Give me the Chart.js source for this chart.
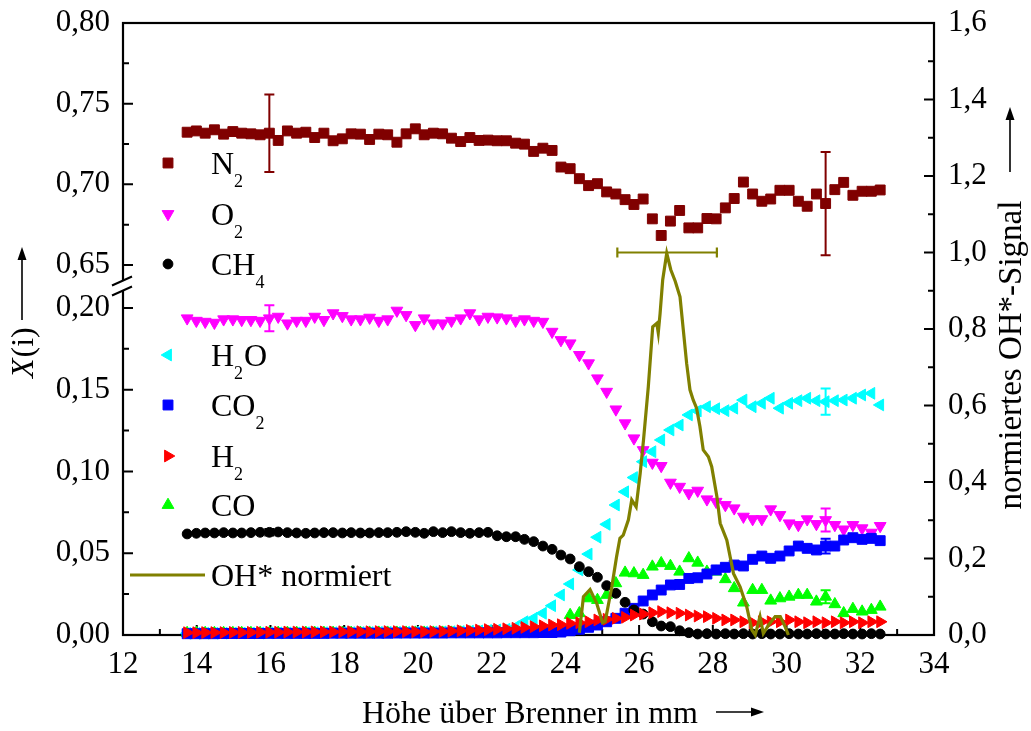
<!DOCTYPE html>
<html><head><meta charset="utf-8">
<script src="https://cdn.jsdelivr.net/npm/chart.js@4.4.0/dist/chart.umd.min.js"></script>
<style>html,body{margin:0;padding:0;background:#fff;}canvas{display:block;}</style>
</head><body>
<canvas id="c" width="1031" height="731"></canvas>
<script>
// ---------------- data ----------------
const xPos = [13.74,13.99,14.23,14.48,14.73,14.98,15.22,15.47,15.72,15.97,16.21,16.46,16.71,16.96,17.20,17.45,17.70,17.95,18.19,18.44,18.69,18.94,19.18,19.43,19.68,19.93,20.17,20.42,20.67,20.91,21.16,21.41,21.66,21.90,22.15,22.40,22.65,22.89,23.14,23.39,23.64,23.88,24.13,24.38,24.63,24.87,25.12,25.37,25.62,25.86,26.11,26.36,26.60,26.85,27.10,27.35,27.59,27.84,28.09,28.34,28.58,28.83,29.08,29.33,29.57,29.82,30.07,30.32,30.56,30.81,31.06,31.31,31.55,31.80,32.05,32.30,32.54];
const n2 = [0.7323,0.7331,0.7317,0.7338,0.7311,0.7327,0.7317,0.7313,0.7307,0.7317,0.7272,0.7331,0.7317,0.7323,0.7290,0.7317,0.7270,0.7282,0.7313,0.7311,0.7278,0.7311,0.7307,0.7261,0.7313,0.7344,0.7307,0.7317,0.7313,0.7286,0.7265,0.7290,0.7272,0.7274,0.7270,0.7270,0.7255,0.7249,0.7204,0.7224,0.7210,0.7107,0.7097,0.7035,0.6992,0.7004,0.6953,0.6940,0.6905,0.6875,0.6909,0.6786,0.6683,0.6772,0.6838,0.6730,0.6730,0.6788,0.6786,0.6854,0.6912,0.7014,0.6940,0.6895,0.6909,0.6963,0.6963,0.6895,0.6864,0.6940,0.6881,0.6967,0.7012,0.6932,0.6957,0.6957,0.6965];
const o2 = [0.1937,0.1922,0.1916,0.1910,0.1931,0.1931,0.1927,0.1927,0.1922,0.1937,0.1947,0.1906,0.1922,0.1922,0.1947,0.1927,0.1968,0.1951,0.1931,0.1931,0.1941,0.1922,0.1931,0.1984,0.1957,0.1896,0.1937,0.1906,0.1906,0.1922,0.1937,0.1968,0.1931,0.1947,0.1943,0.1937,0.1922,0.1931,0.1922,0.1916,0.1855,0.1804,0.1784,0.1713,0.1662,0.1570,0.1488,0.1380,0.1295,0.1203,0.1131,0.1054,0.1034,0.0932,0.0907,0.0867,0.0883,0.0830,0.0815,0.0795,0.0775,0.0724,0.0709,0.0709,0.0769,0.0734,0.0683,0.0673,0.0708,0.0679,0.0703,0.0673,0.0646,0.0673,0.0653,0.0626,0.0667];
const ch4 = [0.0618,0.0622,0.0624,0.0624,0.0626,0.0624,0.0624,0.0626,0.0628,0.0628,0.0630,0.0626,0.0624,0.0622,0.0624,0.0626,0.0626,0.0624,0.0626,0.0624,0.0624,0.0626,0.0626,0.0628,0.0632,0.0628,0.0622,0.0632,0.0626,0.0632,0.0626,0.0622,0.0626,0.0628,0.0607,0.0601,0.0601,0.0585,0.0571,0.0544,0.0524,0.0489,0.0465,0.0418,0.0387,0.0353,0.0302,0.0255,0.0200,0.0153,0.0128,0.0081,0.0055,0.0051,0.0026,0.0014,0.0006,0.0008,0.0006,0.0008,0.0006,0.0008,0.0006,0.0008,0.0006,0.0006,0.0008,0.0006,0.0006,0.0008,0.0006,0.0006,0.0008,0.0006,0.0006,0.0008,0.0006];
const h2o = [0.0010,0.0010,0.0011,0.0011,0.0011,0.0012,0.0012,0.0012,0.0012,0.0013,0.0013,0.0013,0.0013,0.0014,0.0014,0.0014,0.0014,0.0015,0.0015,0.0015,0.0015,0.0016,0.0016,0.0016,0.0017,0.0017,0.0018,0.0018,0.0019,0.0020,0.0021,0.0023,0.0025,0.0028,0.0031,0.0035,0.0050,0.0081,0.0102,0.0133,0.0179,0.0245,0.0312,0.0398,0.0495,0.0598,0.0677,0.0795,0.0876,0.0963,0.1060,0.1121,0.1193,0.1254,0.1284,0.1346,0.1370,0.1396,0.1384,0.1372,0.1387,0.1437,0.1396,0.1417,0.1448,0.1387,0.1417,0.1433,0.1448,0.1433,0.1427,0.1433,0.1437,0.1448,0.1468,0.1478,0.1407];
const co2 = [0.0008,0.0008,0.0008,0.0008,0.0009,0.0009,0.0009,0.0009,0.0009,0.0010,0.0010,0.0010,0.0010,0.0010,0.0010,0.0010,0.0011,0.0011,0.0011,0.0011,0.0011,0.0011,0.0011,0.0012,0.0012,0.0012,0.0012,0.0012,0.0012,0.0013,0.0013,0.0013,0.0013,0.0013,0.0013,0.0014,0.0014,0.0014,0.0014,0.0015,0.0015,0.0018,0.0026,0.0035,0.0047,0.0061,0.0081,0.0102,0.0133,0.0163,0.0208,0.0245,0.0275,0.0306,0.0309,0.0346,0.0350,0.0373,0.0398,0.0414,0.0428,0.0422,0.0463,0.0483,0.0469,0.0483,0.0514,0.0544,0.0530,0.0520,0.0544,0.0544,0.0581,0.0595,0.0585,0.0591,0.0577];
const h2 = [0.0014,0.0014,0.0015,0.0015,0.0015,0.0016,0.0016,0.0016,0.0017,0.0017,0.0017,0.0018,0.0018,0.0018,0.0019,0.0019,0.0019,0.0020,0.0020,0.0020,0.0020,0.0021,0.0021,0.0021,0.0021,0.0020,0.0020,0.0021,0.0022,0.0024,0.0026,0.0028,0.0030,0.0033,0.0035,0.0038,0.0041,0.0046,0.0051,0.0056,0.0061,0.0063,0.0071,0.0075,0.0081,0.0092,0.0096,0.0102,0.0108,0.0122,0.0128,0.0136,0.0143,0.0136,0.0133,0.0122,0.0116,0.0112,0.0102,0.0092,0.0092,0.0081,0.0075,0.0081,0.0081,0.0081,0.0092,0.0081,0.0075,0.0081,0.0075,0.0081,0.0075,0.0081,0.0075,0.0081,0.0081];
const co = [0.0012,0.0012,0.0012,0.0012,0.0012,0.0012,0.0012,0.0012,0.0012,0.0012,0.0013,0.0013,0.0013,0.0013,0.0013,0.0013,0.0013,0.0013,0.0013,0.0013,0.0014,0.0014,0.0014,0.0014,0.0014,0.0014,0.0014,0.0014,0.0014,0.0014,0.0015,0.0016,0.0017,0.0018,0.0018,0.0019,0.0020,0.0020,0.0021,0.0020,0.0025,0.0030,0.0122,0.0133,0.0224,0.0214,0.0245,0.0316,0.0381,0.0377,0.0367,0.0418,0.0439,0.0422,0.0387,0.0469,0.0442,0.0387,0.0387,0.0341,0.0286,0.0198,0.0275,0.0275,0.0210,0.0224,0.0234,0.0245,0.0245,0.0204,0.0234,0.0188,0.0133,0.0159,0.0143,0.0153,0.0173];
const ohX = [24.38,24.49,24.67,24.85,25.01,25.08,25.26,25.39,25.48,25.57,25.71,25.80,25.92,26.03,26.12,26.25,26.37,26.48,26.52,26.57,26.64,26.75,26.86,26.98,27.11,27.20,27.29,27.38,27.47,27.56,27.65,27.74,27.88,27.97,28.11,28.20,28.38,28.56,28.74,28.92,29.06,29.15,29.28,29.37,29.51,29.69,29.83,29.96,30.05];
const ohY = [0.006,0.100,0.119,0.083,0.032,0.035,0.126,0.205,0.253,0.261,0.301,0.353,0.335,0.423,0.510,0.649,0.806,0.815,0.790,0.841,0.928,0.998,0.955,0.925,0.884,0.797,0.710,0.641,0.614,0.593,0.545,0.484,0.466,0.440,0.362,0.292,0.248,0.161,0.126,0.074,0.013,0.000,0.048,0.004,0.026,0.048,0.048,0.022,0.000];
// error bars: series name, point index, half-length
const errSeries = ['N2','N2','O2','O2','CH4','H2O','CO2','CO'];
const errIndex  = [9, 70, 9, 70, 9, 70, 70, 70];
const errSize   = [0.024, 0.032, 0.008, 0.007, 0.002, 0.008, 0.0045, 0.004];
const ohErrCenter = 26.76, ohErrHalf = 1.35, ohErrValue = 1.0;
// tick labels
const leftTickValues = [0, 0.05, 0.10, 0.15, 0.20, 0.65, 0.70, 0.75, 0.80];
const leftTickLabels = ['0,00','0,05','0,10','0,15','0,20','0,65','0,70','0,75','0,80'];
const leftMinorValues = [0.025, 0.075, 0.125, 0.175, 0.675, 0.725, 0.775];

// ---------------- broken left axis mapping ----------------
const BREAK_BASE = 0.2263, BREAK_K = 0.9867, LEFT_MAX = 0.3743;
function toDisp(v){ return v > 0.4 ? BREAK_BASE + (v - 0.65) * BREAK_K : v; }
function pts(arr){ return xPos.map((x,i)=>({x:x, y:toDisp(arr[i])})); }

const FONT = "'Liberation Serif','Times New Roman',serif";
const series = {
  N2:  {data:n2,  color:'#800000', style:'rect',     rot:0,   r:7},
  O2:  {data:o2,  color:'#ff00ff', style:'triangle', rot:180, r:6.8},
  CH4: {data:ch4, color:'#000000', style:'circle',   rot:0,   r:4.9},
  H2O: {data:h2o, color:'#00ffff', style:'triangle', rot:270, r:6.8},
  CO2: {data:co2, color:'#0000ff', style:'rect',     rot:0,   r:7},
  H2:  {data:h2,  color:'#ff0000', style:'triangle', rot:90,  r:6.8},
  CO:  {data:co,  color:'#00ff00', style:'triangle', rot:0,   r:6.8}
};
function ds(name){
  const s = series[name];
  return {label:name, type:'scatter', data:pts(s.data), yAxisID:'y', showLine:false,
    pointStyle:s.style, pointRotation:s.rot, pointRadius:s.r, pointHoverRadius:s.r,
    backgroundColor:s.color, borderColor:s.color, pointBorderWidth:1, clip:false};
}
const datasets = [
  {label:'OH', type:'line', data:ohX.map((x,i)=>({x:x,y:ohY[i]})), yAxisID:'y2',
   borderColor:'#808000', borderWidth:3.2, pointRadius:0, tension:0, fill:false, clip:false},
  ds('H2'), ds('CH4'), ds('CO2'), ds('CO'), ds('H2O'), ds('O2'), ds('N2')
];

// ---------------- decorations plugin ----------------
function arrow(ctx, x1, y1, x2, y2){
  ctx.save(); ctx.strokeStyle='#000'; ctx.fillStyle='#000'; ctx.lineWidth=1.6;
  const a = Math.atan2(y2-y1, x2-x1), hl = 13, hw = 4.5;
  ctx.beginPath(); ctx.moveTo(x1,y1); ctx.lineTo(x2 - Math.cos(a)*hl*0.8, y2 - Math.sin(a)*hl*0.8); ctx.stroke();
  ctx.beginPath(); ctx.moveTo(x2,y2);
  ctx.lineTo(x2 - Math.cos(a)*hl - Math.sin(a)*hw, y2 - Math.sin(a)*hl + Math.cos(a)*hw);
  ctx.lineTo(x2 - Math.cos(a)*hl + Math.sin(a)*hw, y2 - Math.sin(a)*hl - Math.cos(a)*hw);
  ctx.closePath(); ctx.fill(); ctx.restore();
}
// draw text with subscripts: parts = [[text, isSub], ...]
function richText(ctx, parts, x, y, size){
  let cx = x;
  parts.forEach(p=>{
    const sub = p[1];
    ctx.font = (sub ? Math.round(size*0.55) : size) + 'px ' + FONT;
    ctx.fillText(p[0], cx, sub ? y + size*0.4 : y);
    cx += ctx.measureText(p[0]).width + (sub ? 1 : 0);
  });
}
const deco = {
  id:'deco',
  beforeDatasetsDraw(chart){
    const ctx = chart.ctx, a = chart.chartArea;
    const sx = chart.scales.x, sy = chart.scales.y, sy2 = chart.scales.y2;
    ctx.save();
    ctx.strokeStyle = '#000'; ctx.lineWidth = 2.2;
    ctx.strokeRect(a.left, a.top, a.right - a.left, a.bottom - a.top);
    ctx.lineWidth = 2;
    ctx.beginPath();
    // left ticks
    leftTickValues.forEach(v=>{ const y = sy.getPixelForValue(toDisp(v)); ctx.moveTo(a.left, y); ctx.lineTo(a.left + 10, y); });
    leftMinorValues.forEach(v=>{ const y = sy.getPixelForValue(toDisp(v)); ctx.moveTo(a.left, y); ctx.lineTo(a.left + 6, y); });
    // right ticks
    for (let k = 0; k <= 16; k++){ const y = sy2.getPixelForValue(k/10); ctx.moveTo(a.right, y); ctx.lineTo(a.right - (k%2===0 ? 10 : 6), y); }
    // bottom ticks
    for (let v = 12; v <= 34; v++){ const x = sx.getPixelForValue(v); ctx.moveTo(x, a.bottom); ctx.lineTo(x, a.bottom - (v%2===0 ? 10 : 6)); }
    ctx.stroke();
    // axis break marks
    const yb1 = sy.getPixelForValue(toDisp(0.20)), yb2 = sy.getPixelForValue(toDisp(0.65));
    const ym = (yb1 + yb2)/2;
    ctx.fillStyle = '#fff';
    ctx.beginPath(); ctx.moveTo(a.left-11, ym-1); ctx.lineTo(a.left+9, ym-10); ctx.lineTo(a.left+9, ym+0); ctx.lineTo(a.left-11, ym+9); ctx.closePath(); ctx.fill();
    ctx.beginPath(); ctx.lineWidth = 2;
    ctx.moveTo(a.left-11, ym-1); ctx.lineTo(a.left+9, ym-10);
    ctx.moveTo(a.left-11, ym+9); ctx.lineTo(a.left+9, ym+0);
    ctx.stroke();
    ctx.restore();
  },
  afterDatasetsDraw(chart){
    const ctx = chart.ctx, sx = chart.scales.x, sy = chart.scales.y, sy2 = chart.scales.y2;
    ctx.save(); ctx.lineWidth = 2;
    errSeries.forEach((name,k)=>{
      const s = series[name], i = errIndex[k], v = s.data[i], e = errSize[k];
      const x = sx.getPixelForValue(xPos[i]);
      const y1 = sy.getPixelForValue(toDisp(v + e)), y2 = sy.getPixelForValue(toDisp(v - e));
      ctx.strokeStyle = s.color; ctx.beginPath();
      ctx.moveTo(x, y1); ctx.lineTo(x, y2);
      ctx.moveTo(x-5, y1); ctx.lineTo(x+5, y1);
      ctx.moveTo(x-5, y2); ctx.lineTo(x+5, y2);
      ctx.stroke();
    });
    // horizontal error bar of OH*
    const yo = sy2.getPixelForValue(ohErrValue);
    const xl = sx.getPixelForValue(ohErrCenter - ohErrHalf), xr = sx.getPixelForValue(ohErrCenter + ohErrHalf);
    ctx.strokeStyle = '#808000'; ctx.lineWidth = 2.2; ctx.beginPath();
    ctx.moveTo(xl, yo); ctx.lineTo(xr, yo);
    ctx.moveTo(xl, yo-5); ctx.lineTo(xl, yo+5);
    ctx.moveTo(xr, yo-5); ctx.lineTo(xr, yo+5);
    ctx.stroke();
    ctx.restore();
  },
  afterDraw(chart){
    const ctx = chart.ctx;
    ctx.save();
    ctx.fillStyle = '#000'; ctx.textBaseline = 'alphabetic'; ctx.textAlign = 'left';
    // legend
    const legendRows = [
      ['N2', 163, [['N',0],['2',1]]],
      ['O2', 214, [['O',0],['2',1]]],
      ['CH4', 264, [['CH',0],['4',1]]],
      ['H2O', 355, [['H',0],['2',1],['O',0]]],
      ['CO2', 405, [['CO',0],['2',1]]],
      ['H2', 456, [['H',0],['2',1]]],
      ['CO', 505, [['CO',0]]]
    ];
    legendRows.forEach(r=>{
      const s = series[r[0]];
      ctx.fillStyle = s.color; ctx.strokeStyle = s.color; ctx.lineWidth = 1;
      Chart.helpers.drawPoint(ctx, {pointStyle:s.style, rotation:s.rot, radius:s.r, borderWidth:1}, 168, r[1]);
      ctx.fillStyle = '#000';
      richText(ctx, r[2], 211, r[1] + 11, 32);
    });
    ctx.strokeStyle = '#808000'; ctx.lineWidth = 3.2;
    ctx.beginPath(); ctx.moveTo(130, 575); ctx.lineTo(205, 575); ctx.stroke();
    ctx.fillStyle = '#000';
    ctx.font = '32px ' + FONT;
    ctx.fillText('OH* normiert', 211, 586);
    // bottom title
    ctx.font = '32px ' + FONT;
    ctx.fillText('Höhe über Brenner in mm', 362, 723);
    arrow(ctx, 716, 712, 764, 712);
    // left title (rotated)
    ctx.save();
    ctx.translate(33, 378); ctx.rotate(-Math.PI/2);
    ctx.font = 'italic 32px ' + FONT;
    ctx.fillText('X', 0, 0);
    const wX = ctx.measureText('X').width;
    ctx.font = '32px ' + FONT;
    ctx.fillText('(i)', wX + 1, 0);
    ctx.restore();
    arrow(ctx, 22, 320, 22, 247);
    // right title (rotated)
    ctx.save();
    ctx.translate(1021, 355); ctx.rotate(-Math.PI/2);
    ctx.font = '33px ' + FONT; ctx.textAlign = 'center';
    ctx.fillText('normiertes OH*-Signal', 0, 0);
    ctx.restore();
    arrow(ctx, 1010, 172, 1010, 107);
    ctx.restore();
  }
};

const tickFont = {family:FONT, size:31};
function fixV(w){ return (s)=>{ s.width = w; s.paddingTop = 0; s.paddingBottom = 0; }; }
new Chart(document.getElementById('c'), {
  type:'scatter',
  data:{datasets:datasets},
  options:{
    responsive:false, animation:false, devicePixelRatio:1,
    layout:{padding:{top:23, left:0, right:0, bottom:0}},
    plugins:{legend:{display:false}, tooltip:{enabled:false}},
    scales:{
      x:{type:'linear', min:12, max:34, position:'bottom',
         grid:{display:false, drawTicks:false}, border:{display:false},
         ticks:{stepSize:2, autoSkip:false, maxRotation:0, color:'#000', font:tickFont, padding:11,
                callback:(v)=>String(v)},
         afterFit:(s)=>{ s.height = 96; s.paddingLeft = 0; s.paddingRight = 0; }},
      y:{type:'linear', position:'left', min:0, max:LEFT_MAX,
         grid:{display:false, drawTicks:false}, border:{display:false},
         afterBuildTicks:(s)=>{ s.ticks = leftTickValues.map(v=>({value:toDisp(v)})); },
         ticks:{color:'#000', font:tickFont, padding:13, autoSkip:false,
                callback:(v,i)=>leftTickLabels[i]},
         afterFit:fixV(123)},
      y2:{type:'linear', position:'right', min:0, max:1.6,
         grid:{display:false, drawTicks:false}, border:{display:false},
         ticks:{stepSize:0.2, color:'#000', font:tickFont, padding:14, autoSkip:false,
                callback:(v)=>v.toFixed(1).replace('.',',')},
         afterFit:fixV(97)}
    }
  },
  plugins:[deco]
});
</script>
</body></html>
